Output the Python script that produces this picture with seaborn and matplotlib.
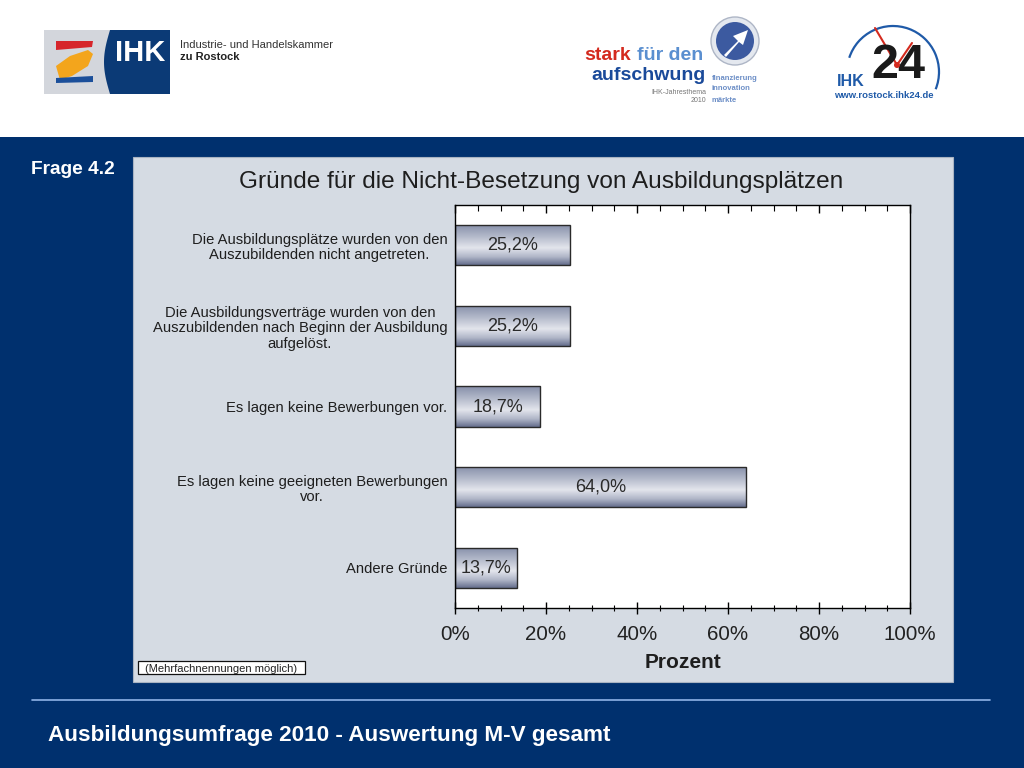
import numpy as np
import matplotlib
matplotlib.use('Agg')
import matplotlib.pyplot as plt
import seaborn as sns
import pandas as pd
from matplotlib.patches import Rectangle, Circle, Polygon, Arc
from matplotlib.ticker import MultipleLocator, FixedLocator
from matplotlib.colors import LinearSegmentedColormap

# ---------------- data ----------------
categories = [
    "Die Ausbildungsplätze wurden von den\nAuszubildenden nicht angetreten.",
    "Die Ausbildungsverträge wurden von den\nAuszubildenden nach Beginn der Ausbildung\naufgelöst.",
    "Es lagen keine Bewerbungen vor.",
    "Es lagen keine geeigneten Bewerbungen\nvor.",
    "Andere Gründe",
]
values = [25.2, 25.2, 18.7, 64.0, 13.7]
value_labels = ["25,2%", "25,2%", "18,7%", "64,0%", "13,7%"]
x_ticks = [0, 20, 40, 60, 80, 100]
x_tick_labels = ["0%", "20%", "40%", "60%", "80%", "100%"]
chart_title = "Gründe für die Nicht-Besetzung von Ausbildungsplätzen"
x_label = "Prozent"
note = "(Mehrfachnennungen möglich)"
question = "Frage 4.2"
footer = "Ausbildungsumfrage 2010 - Auswertung M-V gesamt"

# ---------------- style ----------------
sns.set_theme(style="white")
plt.rcParams['font.family'] = ['Liberation Sans', 'DejaVu Sans']

fig = plt.figure(figsize=(10.24, 7.68), dpi=100)
fig.patch.set_facecolor('white')

# background/pixel canvas
bg = fig.add_axes([0, 0, 1, 1], zorder=0)
bg.set_xlim(0, 1024)
bg.set_ylim(768, 0)
bg.axis('off')

NAVY = '#00306e'
bg.add_patch(Rectangle((0, 137), 1024, 631, fc=NAVY, ec='none'))
bg.add_patch(Rectangle((133, 157), 820, 525, fc='#d5dbe3', ec='#a9b3c2', lw=0.8))
bg.plot([32, 990], [700, 700], color='#8fb3e8', lw=1.2)
bg.text(48, 736, footer, color='white', fontsize=16.2, fontweight='bold', va='center', ha='left')
bg.text(31, 169, question, color='white', fontsize=13.8, fontweight='bold', va='center', ha='left')
bg.text(541, 182, chart_title, color='#1e1e1e', fontsize=17.6, va='center', ha='center')

# note box
bg.add_patch(Rectangle((138, 661), 167, 13, fc='white', ec='#111111', lw=0.9))
bg.text(221.5, 668.5, note, fontsize=8, ha='center', va='center', color='#222222')

# ---- header logos (approximations) ----
bg.add_patch(Rectangle((44, 30), 66, 64, fc='#d3d6dc', ec='none'))
bg.add_patch(Polygon([(56, 41), (93, 41), (92, 47), (56, 50)], fc='#d6252b', ec='none'))
bg.add_patch(Polygon([(56, 66), (70, 56), (88, 50), (93, 54), (88, 66), (72, 76), (60, 80)],
                     fc='#f3a51c', ec='none'))
bg.add_patch(Polygon([(56, 78), (93, 76), (93, 82), (56, 83)], fc='#1b4f9a', ec='none'))
curve_y = np.linspace(30, 94, 30)
curve_x = 110 - 6 * np.sin(np.pi * (curve_y - 30) / 64)
blue_pts = [(170, 30)] + list(zip(curve_x, curve_y)) + [(170, 94)]
bg.add_patch(Polygon(blue_pts, closed=True, fc='#0b3a76', ec='none'))
bg.text(140, 53, "IHK", color='white', fontsize=21, fontweight='bold', ha='center', va='center')
bg.text(180, 45, "Industrie- und Handelskammer", color='#333333', fontsize=8, ha='left', va='center')
bg.text(180, 57, "zu Rostock", color='#222222', fontsize=8, fontweight='bold', ha='left', va='center')

bg.text(584, 56, "stark", color='#d42a1e', fontsize=14, fontweight='heavy', ha='left', va='center')
bg.text(637, 56, "für den", color='#5a8fd0', fontsize=14, fontweight='bold', ha='left', va='center')
bg.text(706, 76, "aufschwung", color='#1a4a9a', fontsize=14, fontweight='heavy', ha='right', va='center')
bg.text(706, 92, "IHK-Jahresthema", color='#777777', fontsize=5, ha='right', va='center')
bg.text(706, 100, "2010", color='#777777', fontsize=5, ha='right', va='center')
bg.text(712, 78, "finanzierung", color='#6d8fc7', fontsize=5.5, fontweight='bold', ha='left', va='center')
bg.text(712, 89, "innovation", color='#6d8fc7', fontsize=5.5, fontweight='bold', ha='left', va='center')
bg.text(712, 100, "märkte", color='#6d8fc7', fontsize=5.5, fontweight='bold', ha='left', va='center')
bg.add_patch(Circle((735, 41), 24, fc='#e4e8ef', ec='#aeb6c6', lw=1))
bg.add_patch(Circle((735, 41), 19, fc='#3c5aa0', ec='none'))
bg.add_patch(Polygon([(724, 55), (738, 41), (733, 36), (748, 30), (743, 45), (739, 42), (726, 57)],
                     fc='white', ec='none'))

bg.add_patch(Arc((893, 72), 92, 92, theta1=198, theta2=382, color='#1f5aa8', lw=1.6))
bg.plot([875, 897], [28, 65], color='#d42a1e', lw=1.5)
bg.plot([897, 912], [65, 43], color='#d42a1e', lw=1.5)
bg.text(837, 82, "IHK", color='#1f5aa8', fontsize=11.5, fontweight='bold', ha='left', va='center')
bg.text(898, 66, "24", color='#1a1a1a', fontsize=35, fontweight='bold', ha='center', va='center')
bg.add_patch(Circle((897, 65), 3, fc='#d42a1e', ec='none', zorder=5))
bg.text(884, 95, "www.rostock.ihk24.de", color='#1f5aa8', fontsize=6.8, fontweight='bold', ha='center', va='center')

# ---------------- chart ----------------
ax = fig.add_axes([455 / 1024, 1 - 608 / 768, 455 / 1024, 403 / 768], zorder=1)
ax.set_facecolor('white')
df = pd.DataFrame({"Grund": categories, "Prozent": values})
sns.barplot(data=df, x="Prozent", y="Grund", orient='h', width=0.5, color='#8d95ab',
            edgecolor='#2a2a2a', linewidth=1, ax=ax)

cmap = LinearSegmentedColormap.from_list(
    'bar', [(0.0, '#858ea9'), (0.3, '#b3b9ca'), (0.58, '#e3e5ec'), (0.8, '#b0b6c8'), (1.0, '#646d8c')])
grad = np.linspace(0, 1, 256).reshape(-1, 1)
for p in list(ax.patches):
    x0, y0 = p.get_x(), p.get_y()
    w, h = p.get_width(), p.get_height()
    im = ax.imshow(grad, cmap=cmap, aspect='auto', extent=(x0, x0 + w, y0 + h, y0),
                   origin='upper', zorder=1.5, interpolation='bilinear')
    im.set_clip_path(p)
    p.set_facecolor('none')
    p.set_zorder(2)

ax.bar_label(ax.containers[0], labels=value_labels, label_type='center',
             fontsize=13, color='#2a2a2a', zorder=3)

ax.set_xlim(0, 100)
ax.set_ylim(4.5, -0.5)
ax.set_aspect('auto')

ax.xaxis.set_major_locator(FixedLocator(x_ticks))
ax.set_xticklabels(x_tick_labels)
ax.xaxis.set_minor_locator(MultipleLocator(5))
ax.tick_params(axis='x', which='major', direction='inout', length=9, width=1, color='black',
               labelsize=14.8, labelcolor='#222222', pad=7.5, bottom=True)
ax.tick_params(axis='x', which='minor', direction='inout', length=4, width=0.8, color='black',
               bottom=True)
ax.tick_params(axis='y', length=0, pad=5.5, labelsize=10.6, labelcolor='#1e1e1e')
for lab in ax.get_yticklabels():
    lab.set_multialignment('center')
    lab.set_linespacing(1.15)

sec = ax.secondary_xaxis('top')
sec.xaxis.set_major_locator(FixedLocator(x_ticks))
sec.xaxis.set_minor_locator(MultipleLocator(5))
sec.tick_params(which='major', direction='in', length=6, width=1, color='black', labeltop=False, top=True)
sec.tick_params(which='minor', direction='in', length=4, width=0.8, color='black', top=True)
sec.set_xticklabels([])
sec.spines['top'].set_visible(False)

for s in ax.spines.values():
    s.set_visible(True)
    s.set_color('black')
    s.set_linewidth(1)

ax.set_ylabel('')
ax.set_xlabel(x_label, fontsize=15, fontweight='bold', labelpad=7, color='#1e1e1e')

fig.savefig('out.png', dpi=100)
